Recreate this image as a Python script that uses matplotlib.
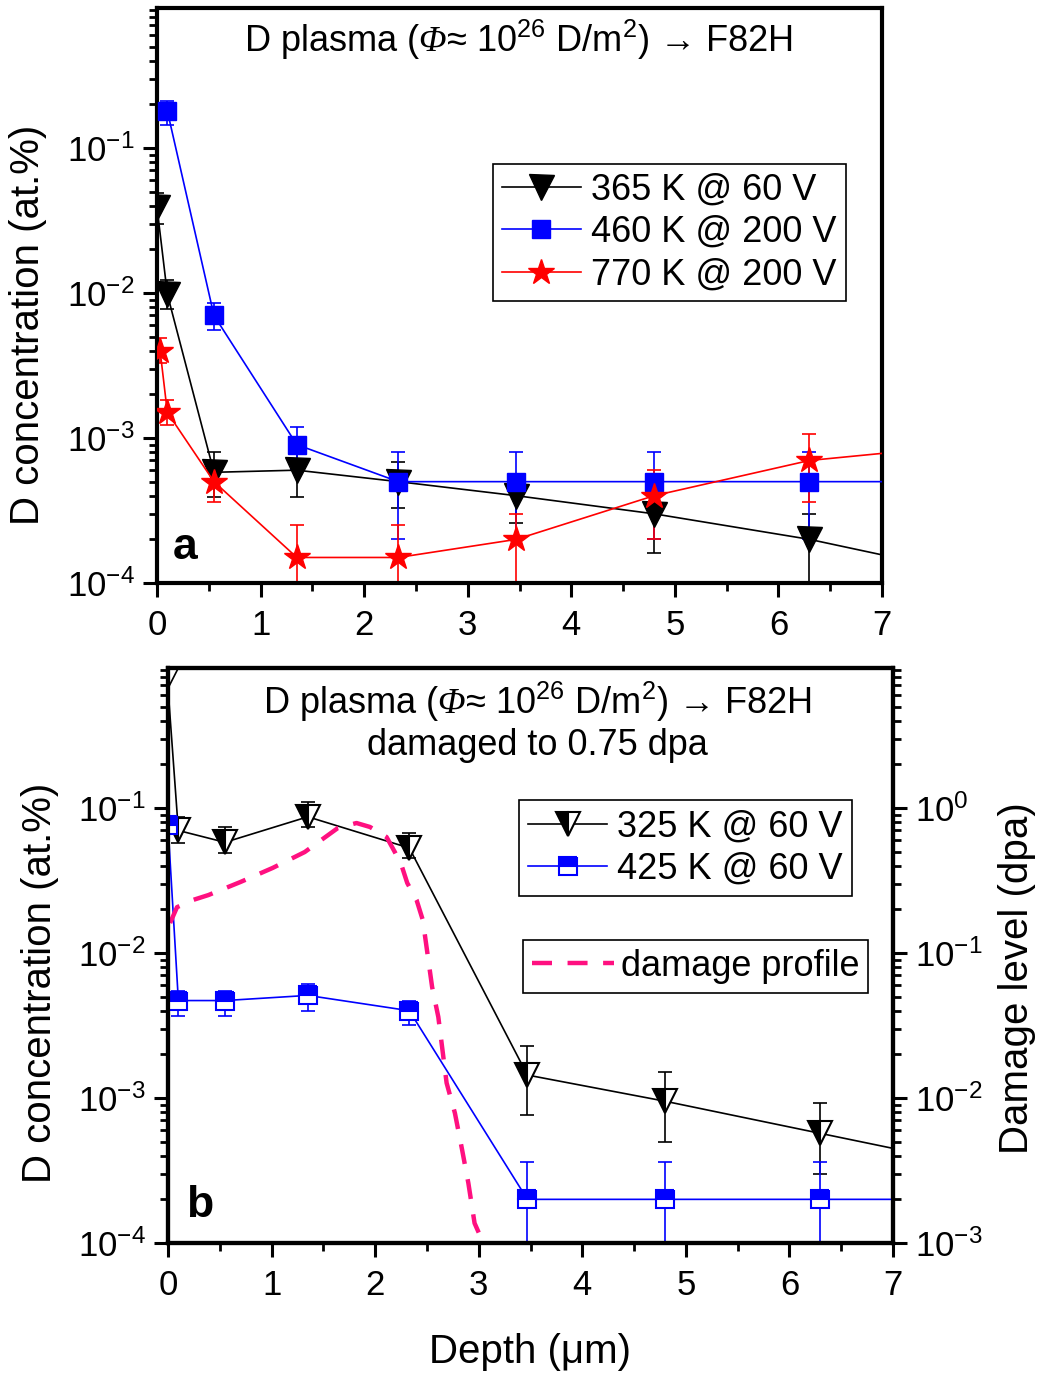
import numpy as np
import matplotlib
matplotlib.use("Agg")
import matplotlib.pyplot as plt
from matplotlib.ticker import LogLocator, LogFormatterMathtext, MultipleLocator, NullFormatter

plt.rcParams['font.family'] = ['Liberation Sans', 'DejaVu Sans']
plt.rcParams['mathtext.fontset'] = 'custom'
plt.rcParams['mathtext.rm'] = 'Liberation Sans'
plt.rcParams['mathtext.it'] = 'Liberation Serif:italic'
plt.rcParams['mathtext.cal'] = 'Liberation Serif:italic'
plt.rcParams['mathtext.bf'] = 'Liberation Sans:bold'
plt.rcParams['mathtext.default'] = 'regular'
plt.rcParams['axes.unicode_minus'] = False

# ---------------- Panel a data ----------------
a_black_x = [0.0, 0.1, 0.55, 1.35, 2.33, 3.47, 4.8, 6.3, 8.0]
a_black_y = [0.039, 0.0098, 5.8e-4, 6.0e-4, 5.0e-4, 4.0e-4, 3.0e-4, 2.0e-4, 1.1e-4]
a_black_lo = [0.009, 0.002, 1.9e-4, 2.1e-4, 1.7e-4, 1.4e-4, 1.4e-4, 1.0e-4, 0.0]
a_black_hi = [0.010, 0.0025, 2.2e-4, 2.0e-4, 1.8e-4, 1.4e-4, 1.4e-4, 1.0e-4, 0.0]

a_blue_x = [0.1, 0.55, 1.35, 2.33, 3.47, 4.8, 6.3, 8.0]
a_blue_y = [0.18, 0.0070, 9.0e-4, 5.0e-4, 5.0e-4, 5.0e-4, 5.0e-4, 5.0e-4]
a_blue_lo = [0.036, 0.0014, 3.0e-4, 3.0e-4, 3.0e-4, 3.0e-4, 3.0e-4, 0.0]
a_blue_hi = [0.030, 0.0015, 3.0e-4, 3.0e-4, 3.0e-4, 3.0e-4, 3.0e-4, 0.0]

a_red_x = [0.03, 0.1, 0.55, 1.35, 2.33, 3.47, 4.8, 6.3, 8.0]
a_red_y = [0.0040, 1.5e-3, 5.0e-4, 1.5e-4, 1.5e-4, 2.0e-4, 4.0e-4, 7.0e-4, 9.2e-4]
a_red_lo = [0.0007, 2.7e-4, 1.4e-4, 1.0e-4, 1.0e-4, 1.5e-4, 2.0e-4, 3.4e-4, 0.0]
a_red_hi = [0.0009, 3.3e-4, 1.4e-4, 1.0e-4, 1.0e-4, 1.0e-4, 2.0e-4, 3.7e-4, 0.0]

a_labels = ["365 K @ 60 V", "460 K @ 200 V", "770 K @ 200 V"]

# ---------------- Panel b data ----------------
b_black_x = [0.25, 0.0, 0.1, 0.55, 1.35, 2.33, 3.47, 4.8, 6.3, 8.0]
b_black_y = [1.5, 0.67, 0.070, 0.058, 0.087, 0.053, 1.44e-3, 9.5e-4, 5.7e-4, 3.2e-4]
b_black_lo = [0, 0, 0.013, 0.009, 0.013, 0.008, 6.8e-4, 4.5e-4, 2.7e-4, 0]
b_black_hi = [0, 0, 0.017, 0.016, 0.023, 0.014, 8.4e-4, 5.6e-4, 3.5e-4, 0]

b_blue_x = [0.0, 0.1, 0.55, 1.35, 2.33, 3.47, 4.8, 6.3, 8.0]
b_blue_y = [0.076, 0.0047, 0.0047, 0.0051, 0.0040, 2.0e-4, 2.0e-4, 2.0e-4, 2.0e-4]
b_blue_lo = [0, 0.0010, 0.0010, 0.0011, 0.0008, 1.6e-4, 1.6e-4, 1.6e-4, 0]
b_blue_hi = [0, 0.0008, 0.0008, 0.0010, 0.0007, 1.6e-4, 1.6e-4, 1.6e-4, 0]

damage_x = [0.02, 0.087, 0.24, 0.39, 0.70, 1.01, 1.32, 1.64, 1.82, 1.95, 2.11, 2.19,
            2.26, 2.31, 2.40, 2.46, 2.55, 2.61, 2.69, 2.77, 2.84, 2.90, 2.96, 3.0]
damage_dpa = [0.161, 0.207, 0.232, 0.251, 0.309, 0.386, 0.497, 0.728, 0.788, 0.740, 0.631, 0.497,
              0.392, 0.304, 0.232, 0.169, 0.0583, 0.0362, 0.0127, 0.00788, 0.00438, 0.00259, 0.00137, 0.00118]

b_labels = ["325 K @ 60 V", "425 K @ 60 V", "damage profile"]

x_ticks = [0, 1, 2, 3, 4, 5, 6, 7]

W, H = 1043, 1378
fig = plt.figure(figsize=(W / 100, H / 100), dpi=100)

def px_rect(l, t, r, b):
    return [l / W, 1 - b / H, (r - l) / W, (b - t) / H]

TFS = 25      # tick labels
LFS = 26      # legends / titles
AFS = 29      # axis labels
SPINE = 3.0

def style_axis(ax, left=True, right=False):
    for s in ax.spines.values():
        s.set_linewidth(SPINE)
    ax.set_xlim(0, 7)
    ax.set_xticks(x_ticks)
    ax.set_xticklabels([str(t) for t in x_ticks])
    ax.xaxis.set_minor_locator(MultipleLocator(0.5))
    ax.tick_params(axis='both', which='major', direction='out', length=10, width=2.2,
                   labelsize=TFS, pad=6)
    ax.tick_params(axis='x', which='major', pad=9)
    ax.tick_params(axis='both', which='minor', direction='out', length=6, width=2.0)
    ax.tick_params(axis='x', which='both', top=False)
    ax.tick_params(axis='y', which='both', left=left, right=right,
                   labelleft=left, labelright=right)

def setup_log(ax, lo, hi):
    ax.set_yscale('log')
    ax.set_ylim(lo, hi)
    ax.yaxis.set_major_locator(LogLocator(base=10, numticks=20))
    ax.yaxis.set_minor_locator(LogLocator(base=10, subs=np.arange(2, 10), numticks=20))
    ax.yaxis.set_major_formatter(LogFormatterMathtext())
    ax.yaxis.set_minor_formatter(NullFormatter())

def errbars(ax, x, y, lo, hi, color):
    x = np.array(x); y = np.array(y); lo = np.array(lo); hi = np.array(hi)
    m = (lo > 0) | (hi > 0)
    ax.errorbar(x[m], y[m], yerr=[lo[m], hi[m]], fmt='none', ecolor=color,
                elinewidth=1.2, capsize=5, capthick=1.2, zorder=2)

def make_legend(ax, handles, anchor, hl=2.2, pad=0.28):
    leg = ax.legend(handles=handles, loc='upper left', bbox_to_anchor=anchor,
                    borderaxespad=0, fontsize=LFS, frameon=True, fancybox=False,
                    edgecolor='black', framealpha=1, handlelength=hl, handletextpad=pad,
                    labelspacing=0.2, borderpad=0.25)
    leg.get_frame().set_linewidth(1.2)
    return leg

TITLE = "D plasma ($\\mathcal{\u03a6}$\u2248 10$^{26}$ D/m$^{2}$) \u2192 F82H"

# ---------------- Panel a ----------------
axa = fig.add_axes(px_rect(157, 8, 882, 583))
setup_log(axa, 1e-4, 0.924)
style_axis(axa)

errbars(axa, a_black_x, a_black_y, a_black_lo, a_black_hi, 'black')
errbars(axa, a_blue_x, a_blue_y, a_blue_lo, a_blue_hi, 'blue')
errbars(axa, a_red_x, a_red_y, a_red_lo, a_red_hi, 'red')

h1, = axa.plot(a_black_x, a_black_y, '-', color='black', lw=1.2, marker='v', ms=18,
               mfc='black', mec='black', zorder=3, label=a_labels[0])
h2, = axa.plot(a_blue_x, a_blue_y, '-', color='blue', lw=1.2, marker='s', ms=13,
               mfc='blue', mec='blue', zorder=3, label=a_labels[1])
h3, = axa.plot(a_red_x, a_red_y, '-', color='red', lw=1.2, marker='*', ms=19,
               mfc='red', mec='red', zorder=4, label=a_labels[2])

make_legend(axa, [h1, h2, h3], (0.463, 0.729))

axa.text(0.498, 0.944, TITLE, transform=axa.transAxes, ha='center', va='center', fontsize=LFS)
axa.text(0.039, 0.061, "a", transform=axa.transAxes, ha='center', va='center',
         fontsize=32, fontweight='bold')

# ---------------- Panel b ----------------
axb = fig.add_axes(px_rect(168, 668, 893, 1243))
setup_log(axb, 1e-4, 0.924)
style_axis(axb)

errbars(axb, b_black_x, b_black_y, b_black_lo, b_black_hi, 'black')
errbars(axb, b_blue_x, b_blue_y, b_blue_lo, b_blue_hi, 'blue')

g1, = axb.plot(b_black_x, b_black_y, '-', color='black', lw=1.2, marker='v', ms=17,
               fillstyle='left', mfc='black', mfcalt='white', mec='black', mew=1.5,
               markevery=list(range(2, len(b_black_x))), zorder=3, label=b_labels[0])
g2, = axb.plot(b_blue_x, b_blue_y, '-', color='blue', lw=1.2, marker='s', ms=13,
               fillstyle='top', mfc='blue', mfcalt='white', mec='blue', mew=1.5,
               zorder=3, label=b_labels[1])

axb2 = axb.twinx()
axb2.set_position(px_rect(168, 668, 893, 1243))
setup_log(axb2, 1e-3, 9.24)
style_axis(axb2, left=False, right=True)
g3, = axb2.plot(damage_x, damage_dpa, color='#FF1080', lw=3.2, dashes=(4.5, 3.5),
                label=b_labels[2], zorder=2)

legb1 = make_legend(axb2, [g1, g2], (0.484, 0.770))
axb2.add_artist(legb1)
make_legend(axb2, [g3], (0.490, 0.527), hl=2.25, pad=0.2)

axb2.text(0.510, 0.941, TITLE, transform=axb.transAxes, ha='center', va='center', fontsize=LFS)
axb2.text(0.510, 0.866, "damaged to 0.75 dpa", transform=axb.transAxes,
          ha='center', va='center', fontsize=LFS)
axb2.text(0.043, 0.066, "b", transform=axb.transAxes, ha='center', va='center',
          fontsize=32, fontweight='bold')

# ---------------- Axis labels ----------------
fig.text(28 / W, 1 - 325 / H, "D concentration (at.%)", rotation=90, ha='center',
         va='center', fontsize=AFS)
fig.text(40 / W, 1 - 983 / H, "D concentration (at.%)", rotation=90, ha='center',
         va='center', fontsize=AFS)
fig.text(1017 / W, 1 - 978 / H, "Damage level (dpa)", rotation=90, ha='center',
         va='center', fontsize=AFS)
fig.text(530 / W, 1 - 1352 / H, "Depth (\u03bcm)", ha='center', va='center', fontsize=AFS)

fig.savefig("out.png", dpi=100)
